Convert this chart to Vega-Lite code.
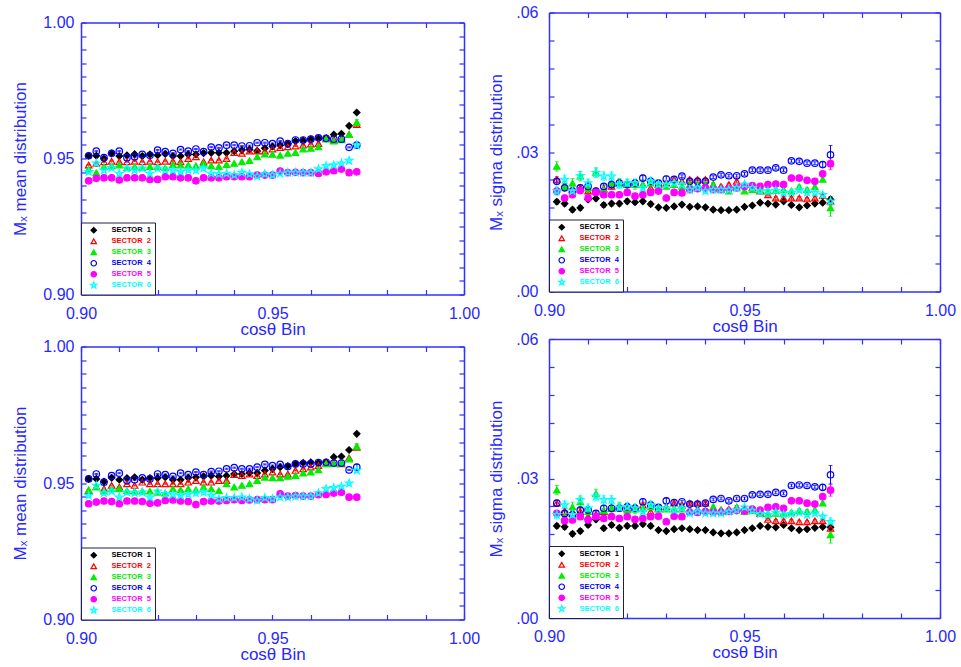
{
"$schema": "https://vega.github.io/schema/vega-lite/v6.json",
"background": "white",
"padding": {"left": 11, "top": 4.5, "right": 0, "bottom": 2},
"config": {
 "view": {"stroke": null},
 "axis": {"domainColor": "#3030ff", "domainWidth": 1.5, "tickColor": "#3030ff", "tickWidth": 1.2, "tickSize": -5, "labelColor": "#2828ff", "titleColor": "#2828ff", "labelFont": "Liberation Sans", "titleFont": "Liberation Sans", "labelFontSize": 16, "titleFontSize": 17, "titleFontWeight": "normal", "grid": false, "labelFlush": false, "labelOverlap": false},
 "legend": {"orient": "bottom-left", "offset": 0, "title": null, "padding": 4, "strokeColor": "#202040", "fillColor": "white", "labelFont": "Liberation Sans", "labelFontSize": 7.5, "labelFontWeight": "bold", "symbolOffset": 5, "labelOffset": 14, "rowPadding": 0, "symbolStrokeWidth": 1.2, "symbolSize": 30}
},
"spacing": 7,
"resolve": {"scale": {"shape": "independent", "fill": "independent", "stroke": "independent", "color": "independent"}, "legend": {"shape": "independent", "fill": "independent", "stroke": "independent", "color": "independent"}},
"datasets": {
"tl": [
{"s":1,"x":0.902,"y":0.951,"e":0.0002},{"s":1,"x":0.904,"y":0.951,"e":0.0002},{"s":1,"x":0.906,"y":0.95,"e":0.0002},{"s":1,"x":0.908,"y":0.9519,"e":0.0002},{"s":1,"x":0.91,"y":0.9509,"e":0.0002},{"s":1,"x":0.912,"y":0.9512,"e":0.0002},{"s":1,"x":0.914,"y":0.9516,"e":0.0002},{"s":1,"x":0.916,"y":0.9509,"e":0.0002},{"s":1,"x":0.918,"y":0.9515,"e":0.0002},{"s":1,"x":0.92,"y":0.9512,"e":0.0002},{"s":1,"x":0.922,"y":0.9517,"e":0.0002},{"s":1,"x":0.924,"y":0.9509,"e":0.0002},{"s":1,"x":0.926,"y":0.9509,"e":0.0002},{"s":1,"x":0.928,"y":0.9515,"e":0.0002},{"s":1,"x":0.93,"y":0.9515,"e":0.0002},{"s":1,"x":0.932,"y":0.952,"e":0.0002},{"s":1,"x":0.934,"y":0.9521,"e":0.0002},{"s":1,"x":0.936,"y":0.9521,"e":0.0002},{"s":1,"x":0.938,"y":0.9521,"e":0.0002},{"s":1,"x":0.94,"y":0.9527,"e":0.0002},{"s":1,"x":0.942,"y":0.9531,"e":0.0002},{"s":1,"x":0.944,"y":0.9533,"e":0.0002},{"s":1,"x":0.946,"y":0.9528,"e":0.0002},{"s":1,"x":0.948,"y":0.9538,"e":0.0002},{"s":1,"x":0.95,"y":0.9544,"e":0.0002},{"s":1,"x":0.952,"y":0.9549,"e":0.0002},{"s":1,"x":0.954,"y":0.9554,"e":0.0002},{"s":1,"x":0.956,"y":0.9564,"e":0.0002},{"s":1,"x":0.958,"y":0.9566,"e":0.0002},{"s":1,"x":0.96,"y":0.957,"e":0.0002},{"s":1,"x":0.962,"y":0.9574,"e":0.0002},{"s":1,"x":0.964,"y":0.9574,"e":0.0002},{"s":1,"x":0.966,"y":0.9588,"e":0.0002},{"s":1,"x":0.968,"y":0.9591,"e":0.0002},{"s":1,"x":0.97,"y":0.962,"e":0.0002},{"s":1,"x":0.972,"y":0.9669,"e":0.0004},
{"s":2,"x":0.902,"y":0.9476,"e":0.0002},{"s":2,"x":0.904,"y":0.9482,"e":0.0002},{"s":2,"x":0.906,"y":0.9488,"e":0.0002},{"s":2,"x":0.908,"y":0.949,"e":0.0002},{"s":2,"x":0.91,"y":0.9488,"e":0.0002},{"s":2,"x":0.912,"y":0.9488,"e":0.0002},{"s":2,"x":0.914,"y":0.949,"e":0.0002},{"s":2,"x":0.916,"y":0.9488,"e":0.0002},{"s":2,"x":0.918,"y":0.949,"e":0.0002},{"s":2,"x":0.92,"y":0.9488,"e":0.0002},{"s":2,"x":0.922,"y":0.949,"e":0.0002},{"s":2,"x":0.924,"y":0.949,"e":0.0002},{"s":2,"x":0.926,"y":0.9488,"e":0.0002},{"s":2,"x":0.928,"y":0.95,"e":0.0002},{"s":2,"x":0.93,"y":0.9506,"e":0.0002},{"s":2,"x":0.932,"y":0.9488,"e":0.0002},{"s":2,"x":0.934,"y":0.9494,"e":0.0002},{"s":2,"x":0.936,"y":0.9494,"e":0.0002},{"s":2,"x":0.938,"y":0.95,"e":0.0002},{"s":2,"x":0.94,"y":0.9522,"e":0.0002},{"s":2,"x":0.942,"y":0.9519,"e":0.0002},{"s":2,"x":0.944,"y":0.9527,"e":0.0002},{"s":2,"x":0.946,"y":0.9527,"e":0.0002},{"s":2,"x":0.948,"y":0.9527,"e":0.0002},{"s":2,"x":0.95,"y":0.9535,"e":0.0002},{"s":2,"x":0.952,"y":0.954,"e":0.0002},{"s":2,"x":0.954,"y":0.9543,"e":0.0002},{"s":2,"x":0.956,"y":0.9546,"e":0.0002},{"s":2,"x":0.958,"y":0.9549,"e":0.0002},{"s":2,"x":0.96,"y":0.9553,"e":0.0002},{"s":2,"x":0.962,"y":0.9555,"e":0.0002},{"s":2,"x":0.964,"y":0.9574,"e":0.0002},{"s":2,"x":0.966,"y":0.9568,"e":0.0002},{"s":2,"x":0.968,"y":0.9571,"e":0.0002},{"s":2,"x":0.97,"y":0.9588,"e":0.0002},{"s":2,"x":0.972,"y":0.9625,"e":0.0008},
{"s":3,"x":0.902,"y":0.9461,"e":0.0002},{"s":3,"x":0.904,"y":0.9448,"e":0.0002},{"s":3,"x":0.906,"y":0.947,"e":0.0002},{"s":3,"x":0.908,"y":0.9473,"e":0.0002},{"s":3,"x":0.91,"y":0.9476,"e":0.0002},{"s":3,"x":0.912,"y":0.9466,"e":0.0002},{"s":3,"x":0.914,"y":0.947,"e":0.0002},{"s":3,"x":0.916,"y":0.9466,"e":0.0002},{"s":3,"x":0.918,"y":0.947,"e":0.0002},{"s":3,"x":0.92,"y":0.947,"e":0.0002},{"s":3,"x":0.922,"y":0.9466,"e":0.0002},{"s":3,"x":0.924,"y":0.9478,"e":0.0002},{"s":3,"x":0.926,"y":0.9476,"e":0.0002},{"s":3,"x":0.928,"y":0.9476,"e":0.0002},{"s":3,"x":0.93,"y":0.9473,"e":0.0002},{"s":3,"x":0.932,"y":0.9482,"e":0.0002},{"s":3,"x":0.934,"y":0.9473,"e":0.0002},{"s":3,"x":0.936,"y":0.947,"e":0.0002},{"s":3,"x":0.938,"y":0.9478,"e":0.0002},{"s":3,"x":0.94,"y":0.9482,"e":0.0002},{"s":3,"x":0.942,"y":0.9488,"e":0.0002},{"s":3,"x":0.944,"y":0.9492,"e":0.0002},{"s":3,"x":0.946,"y":0.9506,"e":0.0002},{"s":3,"x":0.948,"y":0.9516,"e":0.0002},{"s":3,"x":0.95,"y":0.9515,"e":0.0002},{"s":3,"x":0.952,"y":0.9512,"e":0.0002},{"s":3,"x":0.954,"y":0.9519,"e":0.0002},{"s":3,"x":0.956,"y":0.9522,"e":0.0002},{"s":3,"x":0.958,"y":0.9535,"e":0.0002},{"s":3,"x":0.96,"y":0.9537,"e":0.0002},{"s":3,"x":0.962,"y":0.9543,"e":0.0002},{"s":3,"x":0.964,"y":0.9571,"e":0.0002},{"s":3,"x":0.966,"y":0.9564,"e":0.0002},{"s":3,"x":0.968,"y":0.9569,"e":0.0002},{"s":3,"x":0.97,"y":0.9588,"e":0.0002},{"s":3,"x":0.972,"y":0.9633,"e":0.001},
{"s":4,"x":0.902,"y":0.951,"e":0.0002},{"s":4,"x":0.904,"y":0.9527,"e":0.0002},{"s":4,"x":0.906,"y":0.9503,"e":0.0002},{"s":4,"x":0.908,"y":0.9519,"e":0.0002},{"s":4,"x":0.91,"y":0.9527,"e":0.0002},{"s":4,"x":0.912,"y":0.9503,"e":0.0002},{"s":4,"x":0.914,"y":0.9506,"e":0.0002},{"s":4,"x":0.916,"y":0.9515,"e":0.0002},{"s":4,"x":0.918,"y":0.9512,"e":0.0002},{"s":4,"x":0.92,"y":0.9531,"e":0.0002},{"s":4,"x":0.922,"y":0.9525,"e":0.0002},{"s":4,"x":0.924,"y":0.9519,"e":0.0002},{"s":4,"x":0.926,"y":0.9533,"e":0.0002},{"s":4,"x":0.928,"y":0.9527,"e":0.0002},{"s":4,"x":0.93,"y":0.9535,"e":0.0002},{"s":4,"x":0.932,"y":0.9525,"e":0.0002},{"s":4,"x":0.934,"y":0.9542,"e":0.0002},{"s":4,"x":0.936,"y":0.9539,"e":0.0002},{"s":4,"x":0.938,"y":0.9549,"e":0.0002},{"s":4,"x":0.94,"y":0.9549,"e":0.0002},{"s":4,"x":0.942,"y":0.9546,"e":0.0002},{"s":4,"x":0.944,"y":0.9547,"e":0.0002},{"s":4,"x":0.946,"y":0.9558,"e":0.0002},{"s":4,"x":0.948,"y":0.9558,"e":0.0002},{"s":4,"x":0.95,"y":0.9555,"e":0.0002},{"s":4,"x":0.952,"y":0.9564,"e":0.0002},{"s":4,"x":0.954,"y":0.9555,"e":0.0002},{"s":4,"x":0.956,"y":0.9568,"e":0.0002},{"s":4,"x":0.958,"y":0.9568,"e":0.0002},{"s":4,"x":0.96,"y":0.9571,"e":0.0002},{"s":4,"x":0.962,"y":0.9576,"e":0.0002},{"s":4,"x":0.964,"y":0.9574,"e":0.0002},{"s":4,"x":0.966,"y":0.9571,"e":0.0002},{"s":4,"x":0.968,"y":0.9571,"e":0.0002},{"s":4,"x":0.97,"y":0.9541,"e":0.0002},{"s":4,"x":0.972,"y":0.9549,"e":0.001},
{"s":5,"x":0.902,"y":0.9418,"e":0.0002},{"s":5,"x":0.904,"y":0.9427,"e":0.0002},{"s":5,"x":0.906,"y":0.9429,"e":0.0002},{"s":5,"x":0.908,"y":0.9429,"e":0.0002},{"s":5,"x":0.91,"y":0.9421,"e":0.0002},{"s":5,"x":0.912,"y":0.9429,"e":0.0002},{"s":5,"x":0.914,"y":0.9429,"e":0.0002},{"s":5,"x":0.916,"y":0.9429,"e":0.0002},{"s":5,"x":0.918,"y":0.9423,"e":0.0002},{"s":5,"x":0.92,"y":0.9423,"e":0.0002},{"s":5,"x":0.922,"y":0.9433,"e":0.0002},{"s":5,"x":0.924,"y":0.9433,"e":0.0002},{"s":5,"x":0.926,"y":0.9429,"e":0.0002},{"s":5,"x":0.928,"y":0.9429,"e":0.0002},{"s":5,"x":0.93,"y":0.9418,"e":0.0002},{"s":5,"x":0.932,"y":0.9429,"e":0.0002},{"s":5,"x":0.934,"y":0.9429,"e":0.0002},{"s":5,"x":0.936,"y":0.9429,"e":0.0002},{"s":5,"x":0.938,"y":0.9433,"e":0.0002},{"s":5,"x":0.94,"y":0.9433,"e":0.0002},{"s":5,"x":0.942,"y":0.9433,"e":0.0002},{"s":5,"x":0.944,"y":0.9433,"e":0.0002},{"s":5,"x":0.946,"y":0.9439,"e":0.0002},{"s":5,"x":0.948,"y":0.9439,"e":0.0002},{"s":5,"x":0.95,"y":0.9439,"e":0.0002},{"s":5,"x":0.952,"y":0.9454,"e":0.0002},{"s":5,"x":0.954,"y":0.9448,"e":0.0002},{"s":5,"x":0.956,"y":0.9449,"e":0.0002},{"s":5,"x":0.958,"y":0.9448,"e":0.0002},{"s":5,"x":0.96,"y":0.9448,"e":0.0002},{"s":5,"x":0.962,"y":0.9445,"e":0.0002},{"s":5,"x":0.964,"y":0.9451,"e":0.0002},{"s":5,"x":0.966,"y":0.9455,"e":0.0002},{"s":5,"x":0.968,"y":0.9461,"e":0.0002},{"s":5,"x":0.97,"y":0.9448,"e":0.0002},{"s":5,"x":0.972,"y":0.9451,"e":0.0005},
{"s":6,"x":0.902,"y":0.9451,"e":0.0002},{"s":6,"x":0.904,"y":0.9482,"e":0.0002},{"s":6,"x":0.906,"y":0.9457,"e":0.0002},{"s":6,"x":0.908,"y":0.9466,"e":0.0002},{"s":6,"x":0.91,"y":0.9445,"e":0.0002},{"s":6,"x":0.912,"y":0.9464,"e":0.0002},{"s":6,"x":0.914,"y":0.9457,"e":0.0002},{"s":6,"x":0.916,"y":0.9464,"e":0.0002},{"s":6,"x":0.918,"y":0.9445,"e":0.0002},{"s":6,"x":0.92,"y":0.9464,"e":0.0002},{"s":6,"x":0.922,"y":0.9457,"e":0.0002},{"s":6,"x":0.924,"y":0.9457,"e":0.0002},{"s":6,"x":0.926,"y":0.9451,"e":0.0002},{"s":6,"x":0.928,"y":0.9457,"e":0.0002},{"s":6,"x":0.93,"y":0.9457,"e":0.0002},{"s":6,"x":0.932,"y":0.9464,"e":0.0002},{"s":6,"x":0.934,"y":0.9445,"e":0.0002},{"s":6,"x":0.936,"y":0.9443,"e":0.0002},{"s":6,"x":0.938,"y":0.9445,"e":0.0002},{"s":6,"x":0.94,"y":0.9439,"e":0.0002},{"s":6,"x":0.942,"y":0.9448,"e":0.0002},{"s":6,"x":0.944,"y":0.9443,"e":0.0002},{"s":6,"x":0.946,"y":0.9435,"e":0.0002},{"s":6,"x":0.948,"y":0.9443,"e":0.0002},{"s":6,"x":0.95,"y":0.9439,"e":0.0002},{"s":6,"x":0.952,"y":0.9445,"e":0.0002},{"s":6,"x":0.954,"y":0.9448,"e":0.0002},{"s":6,"x":0.956,"y":0.9448,"e":0.0002},{"s":6,"x":0.958,"y":0.9448,"e":0.0002},{"s":6,"x":0.96,"y":0.9448,"e":0.0002},{"s":6,"x":0.962,"y":0.9461,"e":0.0002},{"s":6,"x":0.964,"y":0.9473,"e":0.0002},{"s":6,"x":0.966,"y":0.9476,"e":0.0002},{"s":6,"x":0.968,"y":0.9482,"e":0.0002},{"s":6,"x":0.97,"y":0.9492,"e":0.0002},{"s":6,"x":0.972,"y":0.9549,"e":0.0005}
],
"bl": [
{"s":1,"x":0.902,"y":0.9515,"e":0.0002},{"s":1,"x":0.904,"y":0.9515,"e":0.0002},{"s":1,"x":0.906,"y":0.9505,"e":0.0002},{"s":1,"x":0.908,"y":0.9519,"e":0.0002},{"s":1,"x":0.91,"y":0.9512,"e":0.0002},{"s":1,"x":0.912,"y":0.9518,"e":0.0002},{"s":1,"x":0.914,"y":0.9521,"e":0.0002},{"s":1,"x":0.916,"y":0.9512,"e":0.0002},{"s":1,"x":0.918,"y":0.9518,"e":0.0002},{"s":1,"x":0.92,"y":0.9518,"e":0.0002},{"s":1,"x":0.922,"y":0.9521,"e":0.0002},{"s":1,"x":0.924,"y":0.9512,"e":0.0002},{"s":1,"x":0.926,"y":0.9512,"e":0.0002},{"s":1,"x":0.928,"y":0.9519,"e":0.0002},{"s":1,"x":0.93,"y":0.9521,"e":0.0002},{"s":1,"x":0.932,"y":0.9524,"e":0.0002},{"s":1,"x":0.934,"y":0.9527,"e":0.0002},{"s":1,"x":0.936,"y":0.9524,"e":0.0002},{"s":1,"x":0.938,"y":0.9527,"e":0.0002},{"s":1,"x":0.94,"y":0.9533,"e":0.0002},{"s":1,"x":0.942,"y":0.9533,"e":0.0002},{"s":1,"x":0.944,"y":0.9537,"e":0.0002},{"s":1,"x":0.946,"y":0.9537,"e":0.0002},{"s":1,"x":0.948,"y":0.9546,"e":0.0002},{"s":1,"x":0.95,"y":0.9552,"e":0.0002},{"s":1,"x":0.952,"y":0.9558,"e":0.0002},{"s":1,"x":0.954,"y":0.9562,"e":0.0002},{"s":1,"x":0.956,"y":0.957,"e":0.0002},{"s":1,"x":0.958,"y":0.9574,"e":0.0002},{"s":1,"x":0.96,"y":0.9576,"e":0.0002},{"s":1,"x":0.962,"y":0.9573,"e":0.0002},{"s":1,"x":0.964,"y":0.9576,"e":0.0002},{"s":1,"x":0.966,"y":0.9595,"e":0.0002},{"s":1,"x":0.968,"y":0.9597,"e":0.0002},{"s":1,"x":0.97,"y":0.9621,"e":0.0002},{"s":1,"x":0.972,"y":0.968,"e":0.0004},
{"s":2,"x":0.902,"y":0.9472,"e":0.0002},{"s":2,"x":0.904,"y":0.9487,"e":0.0002},{"s":2,"x":0.906,"y":0.9479,"e":0.0002},{"s":2,"x":0.908,"y":0.9491,"e":0.0002},{"s":2,"x":0.91,"y":0.9485,"e":0.0002},{"s":2,"x":0.912,"y":0.9497,"e":0.0002},{"s":2,"x":0.914,"y":0.9491,"e":0.0002},{"s":2,"x":0.916,"y":0.9503,"e":0.0002},{"s":2,"x":0.918,"y":0.9497,"e":0.0002},{"s":2,"x":0.92,"y":0.9497,"e":0.0002},{"s":2,"x":0.922,"y":0.9497,"e":0.0002},{"s":2,"x":0.924,"y":0.9497,"e":0.0002},{"s":2,"x":0.926,"y":0.9497,"e":0.0002},{"s":2,"x":0.928,"y":0.9503,"e":0.0002},{"s":2,"x":0.93,"y":0.9509,"e":0.0002},{"s":2,"x":0.932,"y":0.9503,"e":0.0002},{"s":2,"x":0.934,"y":0.9503,"e":0.0002},{"s":2,"x":0.936,"y":0.9509,"e":0.0002},{"s":2,"x":0.938,"y":0.9509,"e":0.0002},{"s":2,"x":0.94,"y":0.9531,"e":0.0002},{"s":2,"x":0.942,"y":0.9527,"e":0.0002},{"s":2,"x":0.944,"y":0.9533,"e":0.0002},{"s":2,"x":0.946,"y":0.9527,"e":0.0002},{"s":2,"x":0.948,"y":0.9533,"e":0.0002},{"s":2,"x":0.95,"y":0.954,"e":0.0002},{"s":2,"x":0.952,"y":0.9533,"e":0.0002},{"s":2,"x":0.954,"y":0.9533,"e":0.0002},{"s":2,"x":0.956,"y":0.9546,"e":0.0002},{"s":2,"x":0.958,"y":0.9552,"e":0.0002},{"s":2,"x":0.96,"y":0.9558,"e":0.0002},{"s":2,"x":0.962,"y":0.9564,"e":0.0002},{"s":2,"x":0.964,"y":0.9573,"e":0.0002},{"s":2,"x":0.966,"y":0.9573,"e":0.0002},{"s":2,"x":0.968,"y":0.957,"e":0.0002},{"s":2,"x":0.97,"y":0.9592,"e":0.0002},{"s":2,"x":0.972,"y":0.9631,"e":0.0008},
{"s":3,"x":0.902,"y":0.9475,"e":0.0002},{"s":3,"x":0.904,"y":0.9485,"e":0.0002},{"s":3,"x":0.906,"y":0.947,"e":0.0002},{"s":3,"x":0.908,"y":0.9479,"e":0.0002},{"s":3,"x":0.91,"y":0.9479,"e":0.0002},{"s":3,"x":0.912,"y":0.9472,"e":0.0002},{"s":3,"x":0.914,"y":0.947,"e":0.0002},{"s":3,"x":0.916,"y":0.947,"e":0.0002},{"s":3,"x":0.918,"y":0.947,"e":0.0002},{"s":3,"x":0.92,"y":0.9466,"e":0.0002},{"s":3,"x":0.922,"y":0.9463,"e":0.0002},{"s":3,"x":0.924,"y":0.9479,"e":0.0002},{"s":3,"x":0.926,"y":0.9475,"e":0.0002},{"s":3,"x":0.928,"y":0.9479,"e":0.0002},{"s":3,"x":0.93,"y":0.9475,"e":0.0002},{"s":3,"x":0.932,"y":0.9485,"e":0.0002},{"s":3,"x":0.934,"y":0.9479,"e":0.0002},{"s":3,"x":0.936,"y":0.9472,"e":0.0002},{"s":3,"x":0.938,"y":0.9497,"e":0.0002},{"s":3,"x":0.94,"y":0.9485,"e":0.0002},{"s":3,"x":0.942,"y":0.9491,"e":0.0002},{"s":3,"x":0.944,"y":0.9497,"e":0.0002},{"s":3,"x":0.946,"y":0.9509,"e":0.0002},{"s":3,"x":0.948,"y":0.9521,"e":0.0002},{"s":3,"x":0.95,"y":0.9519,"e":0.0002},{"s":3,"x":0.952,"y":0.9519,"e":0.0002},{"s":3,"x":0.954,"y":0.9524,"e":0.0002},{"s":3,"x":0.956,"y":0.9527,"e":0.0002},{"s":3,"x":0.958,"y":0.9536,"e":0.0002},{"s":3,"x":0.96,"y":0.954,"e":0.0002},{"s":3,"x":0.962,"y":0.9548,"e":0.0002},{"s":3,"x":0.964,"y":0.957,"e":0.0002},{"s":3,"x":0.966,"y":0.957,"e":0.0002},{"s":3,"x":0.968,"y":0.9573,"e":0.0002},{"s":3,"x":0.97,"y":0.9588,"e":0.0002},{"s":3,"x":0.972,"y":0.9634,"e":0.001},
{"s":4,"x":0.902,"y":0.9515,"e":0.0002},{"s":4,"x":0.904,"y":0.9533,"e":0.0002},{"s":4,"x":0.906,"y":0.9503,"e":0.0002},{"s":4,"x":0.908,"y":0.9527,"e":0.0002},{"s":4,"x":0.91,"y":0.9536,"e":0.0002},{"s":4,"x":0.912,"y":0.9509,"e":0.0002},{"s":4,"x":0.914,"y":0.9512,"e":0.0002},{"s":4,"x":0.916,"y":0.9519,"e":0.0002},{"s":4,"x":0.918,"y":0.9515,"e":0.0002},{"s":4,"x":0.92,"y":0.9533,"e":0.0002},{"s":4,"x":0.922,"y":0.9531,"e":0.0002},{"s":4,"x":0.924,"y":0.9524,"e":0.0002},{"s":4,"x":0.926,"y":0.9536,"e":0.0002},{"s":4,"x":0.928,"y":0.9531,"e":0.0002},{"s":4,"x":0.93,"y":0.954,"e":0.0002},{"s":4,"x":0.932,"y":0.9531,"e":0.0002},{"s":4,"x":0.934,"y":0.9542,"e":0.0002},{"s":4,"x":0.936,"y":0.9543,"e":0.0002},{"s":4,"x":0.938,"y":0.9552,"e":0.0002},{"s":4,"x":0.94,"y":0.9556,"e":0.0002},{"s":4,"x":0.942,"y":0.9552,"e":0.0002},{"s":4,"x":0.944,"y":0.9552,"e":0.0002},{"s":4,"x":0.946,"y":0.9558,"e":0.0002},{"s":4,"x":0.948,"y":0.9568,"e":0.0002},{"s":4,"x":0.95,"y":0.9564,"e":0.0002},{"s":4,"x":0.952,"y":0.9568,"e":0.0002},{"s":4,"x":0.954,"y":0.956,"e":0.0002},{"s":4,"x":0.956,"y":0.957,"e":0.0002},{"s":4,"x":0.958,"y":0.957,"e":0.0002},{"s":4,"x":0.96,"y":0.957,"e":0.0002},{"s":4,"x":0.962,"y":0.9575,"e":0.0002},{"s":4,"x":0.964,"y":0.9576,"e":0.0002},{"s":4,"x":0.966,"y":0.9573,"e":0.0002},{"s":4,"x":0.968,"y":0.9573,"e":0.0002},{"s":4,"x":0.97,"y":0.9548,"e":0.0002},{"s":4,"x":0.972,"y":0.9558,"e":0.001},
{"s":5,"x":0.902,"y":0.9424,"e":0.0002},{"s":5,"x":0.904,"y":0.943,"e":0.0002},{"s":5,"x":0.906,"y":0.9434,"e":0.0002},{"s":5,"x":0.908,"y":0.9432,"e":0.0002},{"s":5,"x":0.91,"y":0.9424,"e":0.0002},{"s":5,"x":0.912,"y":0.9434,"e":0.0002},{"s":5,"x":0.914,"y":0.9434,"e":0.0002},{"s":5,"x":0.916,"y":0.9432,"e":0.0002},{"s":5,"x":0.918,"y":0.9426,"e":0.0002},{"s":5,"x":0.92,"y":0.9427,"e":0.0002},{"s":5,"x":0.922,"y":0.9436,"e":0.0002},{"s":5,"x":0.924,"y":0.9438,"e":0.0002},{"s":5,"x":0.926,"y":0.9434,"e":0.0002},{"s":5,"x":0.928,"y":0.9432,"e":0.0002},{"s":5,"x":0.93,"y":0.9421,"e":0.0002},{"s":5,"x":0.932,"y":0.9432,"e":0.0002},{"s":5,"x":0.934,"y":0.9434,"e":0.0002},{"s":5,"x":0.936,"y":0.9434,"e":0.0002},{"s":5,"x":0.938,"y":0.9436,"e":0.0002},{"s":5,"x":0.94,"y":0.9439,"e":0.0002},{"s":5,"x":0.942,"y":0.9436,"e":0.0002},{"s":5,"x":0.944,"y":0.9438,"e":0.0002},{"s":5,"x":0.946,"y":0.9439,"e":0.0002},{"s":5,"x":0.948,"y":0.9439,"e":0.0002},{"s":5,"x":0.95,"y":0.9439,"e":0.0002},{"s":5,"x":0.952,"y":0.946,"e":0.0002},{"s":5,"x":0.954,"y":0.9452,"e":0.0002},{"s":5,"x":0.956,"y":0.9454,"e":0.0002},{"s":5,"x":0.958,"y":0.9452,"e":0.0002},{"s":5,"x":0.96,"y":0.9452,"e":0.0002},{"s":5,"x":0.962,"y":0.9457,"e":0.0002},{"s":5,"x":0.964,"y":0.9458,"e":0.0002},{"s":5,"x":0.966,"y":0.9463,"e":0.0002},{"s":5,"x":0.968,"y":0.9466,"e":0.0002},{"s":5,"x":0.97,"y":0.9448,"e":0.0002},{"s":5,"x":0.972,"y":0.9448,"e":0.0005},
{"s":6,"x":0.902,"y":0.9454,"e":0.0002},{"s":6,"x":0.904,"y":0.9491,"e":0.0002},{"s":6,"x":0.906,"y":0.9463,"e":0.0002},{"s":6,"x":0.908,"y":0.947,"e":0.0002},{"s":6,"x":0.91,"y":0.9448,"e":0.0002},{"s":6,"x":0.912,"y":0.9466,"e":0.0002},{"s":6,"x":0.914,"y":0.9463,"e":0.0002},{"s":6,"x":0.916,"y":0.9466,"e":0.0002},{"s":6,"x":0.918,"y":0.9448,"e":0.0002},{"s":6,"x":0.92,"y":0.947,"e":0.0002},{"s":6,"x":0.922,"y":0.946,"e":0.0002},{"s":6,"x":0.924,"y":0.9458,"e":0.0002},{"s":6,"x":0.926,"y":0.9454,"e":0.0002},{"s":6,"x":0.928,"y":0.9458,"e":0.0002},{"s":6,"x":0.93,"y":0.9463,"e":0.0002},{"s":6,"x":0.932,"y":0.9466,"e":0.0002},{"s":6,"x":0.934,"y":0.9454,"e":0.0002},{"s":6,"x":0.936,"y":0.9442,"e":0.0002},{"s":6,"x":0.938,"y":0.9446,"e":0.0002},{"s":6,"x":0.94,"y":0.9446,"e":0.0002},{"s":6,"x":0.942,"y":0.9448,"e":0.0002},{"s":6,"x":0.944,"y":0.9442,"e":0.0002},{"s":6,"x":0.946,"y":0.9436,"e":0.0002},{"s":6,"x":0.948,"y":0.9446,"e":0.0002},{"s":6,"x":0.95,"y":0.9442,"e":0.0002},{"s":6,"x":0.952,"y":0.9448,"e":0.0002},{"s":6,"x":0.954,"y":0.9448,"e":0.0002},{"s":6,"x":0.956,"y":0.9451,"e":0.0002},{"s":6,"x":0.958,"y":0.9451,"e":0.0002},{"s":6,"x":0.96,"y":0.9451,"e":0.0002},{"s":6,"x":0.962,"y":0.9463,"e":0.0002},{"s":6,"x":0.964,"y":0.9479,"e":0.0002},{"s":6,"x":0.966,"y":0.9482,"e":0.0002},{"s":6,"x":0.968,"y":0.9487,"e":0.0002},{"s":6,"x":0.97,"y":0.9499,"e":0.0002},{"s":6,"x":0.972,"y":0.9546,"e":0.0005}
],
"tr": [
{"s":1,"x":0.902,"y":0.0193,"e":0.0005},{"s":1,"x":0.904,"y":0.0189,"e":0.0005},{"s":1,"x":0.906,"y":0.0176,"e":0.0005},{"s":1,"x":0.908,"y":0.018,"e":0.0005},{"s":1,"x":0.91,"y":0.0198,"e":0.0005},{"s":1,"x":0.912,"y":0.02,"e":0.0005},{"s":1,"x":0.914,"y":0.0186,"e":0.0005},{"s":1,"x":0.916,"y":0.0189,"e":0.0005},{"s":1,"x":0.918,"y":0.0189,"e":0.0005},{"s":1,"x":0.92,"y":0.0194,"e":0.0005},{"s":1,"x":0.922,"y":0.0192,"e":0.0005},{"s":1,"x":0.924,"y":0.0194,"e":0.0005},{"s":1,"x":0.926,"y":0.0188,"e":0.0005},{"s":1,"x":0.928,"y":0.0181,"e":0.0003},{"s":1,"x":0.93,"y":0.018,"e":0.0003},{"s":1,"x":0.932,"y":0.0183,"e":0.0003},{"s":1,"x":0.934,"y":0.0187,"e":0.0003},{"s":1,"x":0.936,"y":0.0182,"e":0.0003},{"s":1,"x":0.938,"y":0.0183,"e":0.0003},{"s":1,"x":0.94,"y":0.0181,"e":0.0003},{"s":1,"x":0.942,"y":0.0176,"e":0.0003},{"s":1,"x":0.944,"y":0.0175,"e":0.0003},{"s":1,"x":0.946,"y":0.0175,"e":0.0003},{"s":1,"x":0.948,"y":0.0176,"e":0.0003},{"s":1,"x":0.95,"y":0.0182,"e":0.0003},{"s":1,"x":0.952,"y":0.0185,"e":0.0003},{"s":1,"x":0.954,"y":0.0191,"e":0.0003},{"s":1,"x":0.956,"y":0.0189,"e":0.0003},{"s":1,"x":0.958,"y":0.0187,"e":0.0003},{"s":1,"x":0.96,"y":0.0194,"e":0.0003},{"s":1,"x":0.962,"y":0.0186,"e":0.0003},{"s":1,"x":0.964,"y":0.0181,"e":0.0003},{"s":1,"x":0.966,"y":0.0185,"e":0.0003},{"s":1,"x":0.968,"y":0.0189,"e":0.0003},{"s":1,"x":0.97,"y":0.0191,"e":0.0003},{"s":1,"x":0.972,"y":0.0198,"e":0.0006},
{"s":2,"x":0.902,"y":0.0241,"e":0.0006},{"s":2,"x":0.904,"y":0.0226,"e":0.0006},{"s":2,"x":0.906,"y":0.0219,"e":0.0006},{"s":2,"x":0.908,"y":0.0223,"e":0.0006},{"s":2,"x":0.91,"y":0.0216,"e":0.0006},{"s":2,"x":0.912,"y":0.0216,"e":0.0006},{"s":2,"x":0.914,"y":0.0221,"e":0.0006},{"s":2,"x":0.916,"y":0.0226,"e":0.0006},{"s":2,"x":0.918,"y":0.0233,"e":0.0006},{"s":2,"x":0.92,"y":0.023,"e":0.0006},{"s":2,"x":0.922,"y":0.0233,"e":0.0006},{"s":2,"x":0.924,"y":0.023,"e":0.0006},{"s":2,"x":0.926,"y":0.0223,"e":0.0006},{"s":2,"x":0.928,"y":0.023,"e":0.0006},{"s":2,"x":0.93,"y":0.0233,"e":0.0006},{"s":2,"x":0.932,"y":0.0241,"e":0.0003},{"s":2,"x":0.934,"y":0.0237,"e":0.0003},{"s":2,"x":0.936,"y":0.0241,"e":0.0003},{"s":2,"x":0.938,"y":0.0241,"e":0.0003},{"s":2,"x":0.94,"y":0.0241,"e":0.0003},{"s":2,"x":0.942,"y":0.023,"e":0.0003},{"s":2,"x":0.944,"y":0.0226,"e":0.0003},{"s":2,"x":0.946,"y":0.023,"e":0.0003},{"s":2,"x":0.948,"y":0.0237,"e":0.0003},{"s":2,"x":0.95,"y":0.023,"e":0.0003},{"s":2,"x":0.952,"y":0.0223,"e":0.0003},{"s":2,"x":0.954,"y":0.0216,"e":0.0003},{"s":2,"x":0.956,"y":0.0208,"e":0.0003},{"s":2,"x":0.958,"y":0.0201,"e":0.0003},{"s":2,"x":0.96,"y":0.0201,"e":0.0003},{"s":2,"x":0.962,"y":0.0201,"e":0.0003},{"s":2,"x":0.964,"y":0.0201,"e":0.0003},{"s":2,"x":0.966,"y":0.0199,"e":0.0003},{"s":2,"x":0.968,"y":0.0201,"e":0.0003},{"s":2,"x":0.97,"y":0.0206,"e":0.0003},{"s":2,"x":0.972,"y":0.0194,"e":0.0008},
{"s":3,"x":0.902,"y":0.0269,"e":0.001},{"s":3,"x":0.904,"y":0.0226,"e":0.001},{"s":3,"x":0.906,"y":0.0233,"e":0.001},{"s":3,"x":0.908,"y":0.0248,"e":0.001},{"s":3,"x":0.91,"y":0.0223,"e":0.001},{"s":3,"x":0.912,"y":0.0256,"e":0.001},{"s":3,"x":0.914,"y":0.0219,"e":0.001},{"s":3,"x":0.916,"y":0.0233,"e":0.001},{"s":3,"x":0.918,"y":0.0233,"e":0.001},{"s":3,"x":0.92,"y":0.023,"e":0.001},{"s":3,"x":0.922,"y":0.023,"e":0.001},{"s":3,"x":0.924,"y":0.023,"e":0.001},{"s":3,"x":0.926,"y":0.0233,"e":0.001},{"s":3,"x":0.928,"y":0.0226,"e":0.0004},{"s":3,"x":0.93,"y":0.0226,"e":0.0004},{"s":3,"x":0.932,"y":0.023,"e":0.0004},{"s":3,"x":0.934,"y":0.0226,"e":0.0004},{"s":3,"x":0.936,"y":0.023,"e":0.0004},{"s":3,"x":0.938,"y":0.023,"e":0.0004},{"s":3,"x":0.94,"y":0.023,"e":0.0004},{"s":3,"x":0.942,"y":0.023,"e":0.0004},{"s":3,"x":0.944,"y":0.0219,"e":0.0004},{"s":3,"x":0.946,"y":0.0216,"e":0.0004},{"s":3,"x":0.948,"y":0.0223,"e":0.0004},{"s":3,"x":0.95,"y":0.0216,"e":0.0004},{"s":3,"x":0.952,"y":0.0219,"e":0.0004},{"s":3,"x":0.954,"y":0.0219,"e":0.0004},{"s":3,"x":0.956,"y":0.0216,"e":0.0004},{"s":3,"x":0.958,"y":0.0217,"e":0.0004},{"s":3,"x":0.96,"y":0.0219,"e":0.0004},{"s":3,"x":0.962,"y":0.0216,"e":0.0004},{"s":3,"x":0.964,"y":0.0225,"e":0.0004},{"s":3,"x":0.966,"y":0.0219,"e":0.0004},{"s":3,"x":0.968,"y":0.0225,"e":0.0004},{"s":3,"x":0.97,"y":0.0241,"e":0.0004},{"s":3,"x":0.972,"y":0.018,"e":0.0018},
{"s":4,"x":0.902,"y":0.0237,"e":0.0006},{"s":4,"x":0.904,"y":0.0223,"e":0.0006},{"s":4,"x":0.906,"y":0.0216,"e":0.0006},{"s":4,"x":0.908,"y":0.0223,"e":0.0006},{"s":4,"x":0.91,"y":0.0226,"e":0.0006},{"s":4,"x":0.912,"y":0.0216,"e":0.0006},{"s":4,"x":0.914,"y":0.0226,"e":0.0006},{"s":4,"x":0.916,"y":0.023,"e":0.0006},{"s":4,"x":0.918,"y":0.0233,"e":0.0006},{"s":4,"x":0.92,"y":0.023,"e":0.0006},{"s":4,"x":0.922,"y":0.0233,"e":0.0006},{"s":4,"x":0.924,"y":0.0244,"e":0.0006},{"s":4,"x":0.926,"y":0.0237,"e":0.0006},{"s":4,"x":0.928,"y":0.0233,"e":0.0006},{"s":4,"x":0.93,"y":0.0242,"e":0.0006},{"s":4,"x":0.932,"y":0.0241,"e":0.0006},{"s":4,"x":0.934,"y":0.0248,"e":0.0003},{"s":4,"x":0.936,"y":0.0237,"e":0.0003},{"s":4,"x":0.938,"y":0.0237,"e":0.0003},{"s":4,"x":0.94,"y":0.0237,"e":0.0003},{"s":4,"x":0.942,"y":0.0246,"e":0.0003},{"s":4,"x":0.944,"y":0.0251,"e":0.0003},{"s":4,"x":0.946,"y":0.0249,"e":0.0003},{"s":4,"x":0.948,"y":0.0249,"e":0.0003},{"s":4,"x":0.95,"y":0.0253,"e":0.0003},{"s":4,"x":0.952,"y":0.0261,"e":0.0003},{"s":4,"x":0.954,"y":0.0261,"e":0.0003},{"s":4,"x":0.956,"y":0.0261,"e":0.0003},{"s":4,"x":0.958,"y":0.0266,"e":0.0003},{"s":4,"x":0.96,"y":0.0261,"e":0.0003},{"s":4,"x":0.962,"y":0.0281,"e":0.0003},{"s":4,"x":0.964,"y":0.028,"e":0.0003},{"s":4,"x":0.966,"y":0.0276,"e":0.0003},{"s":4,"x":0.968,"y":0.0276,"e":0.0003},{"s":4,"x":0.97,"y":0.0273,"e":0.0006},{"s":4,"x":0.972,"y":0.0294,"e":0.002},
{"s":5,"x":0.902,"y":0.0216,"e":0.0006},{"s":5,"x":0.904,"y":0.0201,"e":0.0006},{"s":5,"x":0.906,"y":0.0208,"e":0.0006},{"s":5,"x":0.908,"y":0.0217,"e":0.0006},{"s":5,"x":0.91,"y":0.0201,"e":0.0006},{"s":5,"x":0.912,"y":0.0213,"e":0.0006},{"s":5,"x":0.914,"y":0.0208,"e":0.0006},{"s":5,"x":0.916,"y":0.0208,"e":0.0006},{"s":5,"x":0.918,"y":0.0208,"e":0.0006},{"s":5,"x":0.92,"y":0.0213,"e":0.0006},{"s":5,"x":0.922,"y":0.0205,"e":0.0006},{"s":5,"x":0.924,"y":0.0208,"e":0.0006},{"s":5,"x":0.926,"y":0.0213,"e":0.0006},{"s":5,"x":0.928,"y":0.0216,"e":0.0003},{"s":5,"x":0.93,"y":0.0201,"e":0.0003},{"s":5,"x":0.932,"y":0.0213,"e":0.0003},{"s":5,"x":0.934,"y":0.0212,"e":0.0003},{"s":5,"x":0.936,"y":0.0219,"e":0.0003},{"s":5,"x":0.938,"y":0.0221,"e":0.0003},{"s":5,"x":0.94,"y":0.0223,"e":0.0003},{"s":5,"x":0.942,"y":0.0219,"e":0.0003},{"s":5,"x":0.944,"y":0.0219,"e":0.0003},{"s":5,"x":0.946,"y":0.0221,"e":0.0003},{"s":5,"x":0.948,"y":0.0223,"e":0.0003},{"s":5,"x":0.95,"y":0.0226,"e":0.0003},{"s":5,"x":0.952,"y":0.0228,"e":0.0003},{"s":5,"x":0.954,"y":0.0226,"e":0.0003},{"s":5,"x":0.956,"y":0.023,"e":0.0003},{"s":5,"x":0.958,"y":0.0231,"e":0.0003},{"s":5,"x":0.96,"y":0.023,"e":0.0003},{"s":5,"x":0.962,"y":0.0244,"e":0.0003},{"s":5,"x":0.964,"y":0.0244,"e":0.0003},{"s":5,"x":0.966,"y":0.0239,"e":0.0003},{"s":5,"x":0.968,"y":0.0237,"e":0.0003},{"s":5,"x":0.97,"y":0.0253,"e":0.0003},{"s":5,"x":0.972,"y":0.0275,"e":0.0013},
{"s":6,"x":0.902,"y":0.0216,"e":0.0009},{"s":6,"x":0.904,"y":0.0241,"e":0.0009},{"s":6,"x":0.906,"y":0.0216,"e":0.0009},{"s":6,"x":0.908,"y":0.0249,"e":0.0009},{"s":6,"x":0.91,"y":0.0233,"e":0.0009},{"s":6,"x":0.912,"y":0.0255,"e":0.0009},{"s":6,"x":0.914,"y":0.0248,"e":0.0009},{"s":6,"x":0.916,"y":0.0248,"e":0.0009},{"s":6,"x":0.918,"y":0.023,"e":0.0009},{"s":6,"x":0.92,"y":0.0233,"e":0.0009},{"s":6,"x":0.922,"y":0.0233,"e":0.0009},{"s":6,"x":0.924,"y":0.0223,"e":0.0009},{"s":6,"x":0.926,"y":0.0237,"e":0.0009},{"s":6,"x":0.928,"y":0.023,"e":0.0004},{"s":6,"x":0.93,"y":0.023,"e":0.0004},{"s":6,"x":0.932,"y":0.0233,"e":0.0004},{"s":6,"x":0.934,"y":0.023,"e":0.0004},{"s":6,"x":0.936,"y":0.0219,"e":0.0004},{"s":6,"x":0.938,"y":0.0223,"e":0.0004},{"s":6,"x":0.94,"y":0.0216,"e":0.0004},{"s":6,"x":0.942,"y":0.0219,"e":0.0004},{"s":6,"x":0.944,"y":0.0219,"e":0.0004},{"s":6,"x":0.946,"y":0.0219,"e":0.0004},{"s":6,"x":0.948,"y":0.0223,"e":0.0004},{"s":6,"x":0.95,"y":0.023,"e":0.0004},{"s":6,"x":0.952,"y":0.0223,"e":0.0004},{"s":6,"x":0.954,"y":0.0216,"e":0.0004},{"s":6,"x":0.956,"y":0.0216,"e":0.0004},{"s":6,"x":0.958,"y":0.0217,"e":0.0004},{"s":6,"x":0.96,"y":0.0212,"e":0.0004},{"s":6,"x":0.962,"y":0.0213,"e":0.0004},{"s":6,"x":0.964,"y":0.0218,"e":0.0004},{"s":6,"x":0.966,"y":0.0213,"e":0.0004},{"s":6,"x":0.968,"y":0.0212,"e":0.0004},{"s":6,"x":0.97,"y":0.0208,"e":0.0004},{"s":6,"x":0.972,"y":0.0194,"e":0.0008}
],
"br": [
{"s":1,"x":0.902,"y":0.0198,"e":0.0005},{"s":1,"x":0.904,"y":0.0196,"e":0.0005},{"s":1,"x":0.906,"y":0.0181,"e":0.0005},{"s":1,"x":0.908,"y":0.0187,"e":0.0005},{"s":1,"x":0.91,"y":0.02,"e":0.0005},{"s":1,"x":0.912,"y":0.0212,"e":0.0005},{"s":1,"x":0.914,"y":0.0193,"e":0.0005},{"s":1,"x":0.916,"y":0.02,"e":0.0005},{"s":1,"x":0.918,"y":0.0194,"e":0.0005},{"s":1,"x":0.92,"y":0.0198,"e":0.0005},{"s":1,"x":0.922,"y":0.0198,"e":0.0005},{"s":1,"x":0.924,"y":0.0202,"e":0.0005},{"s":1,"x":0.926,"y":0.0198,"e":0.0005},{"s":1,"x":0.928,"y":0.0189,"e":0.0003},{"s":1,"x":0.93,"y":0.0187,"e":0.0003},{"s":1,"x":0.932,"y":0.0191,"e":0.0003},{"s":1,"x":0.934,"y":0.0193,"e":0.0003},{"s":1,"x":0.936,"y":0.0191,"e":0.0003},{"s":1,"x":0.938,"y":0.0189,"e":0.0003},{"s":1,"x":0.94,"y":0.0189,"e":0.0003},{"s":1,"x":0.942,"y":0.0184,"e":0.0003},{"s":1,"x":0.944,"y":0.0182,"e":0.0003},{"s":1,"x":0.946,"y":0.0182,"e":0.0003},{"s":1,"x":0.948,"y":0.0184,"e":0.0003},{"s":1,"x":0.95,"y":0.0189,"e":0.0003},{"s":1,"x":0.952,"y":0.0193,"e":0.0003},{"s":1,"x":0.954,"y":0.0198,"e":0.0003},{"s":1,"x":0.956,"y":0.0196,"e":0.0003},{"s":1,"x":0.958,"y":0.0195,"e":0.0003},{"s":1,"x":0.96,"y":0.02,"e":0.0003},{"s":1,"x":0.962,"y":0.0193,"e":0.0003},{"s":1,"x":0.964,"y":0.0189,"e":0.0003},{"s":1,"x":0.966,"y":0.0191,"e":0.0003},{"s":1,"x":0.968,"y":0.0194,"e":0.0003},{"s":1,"x":0.97,"y":0.0196,"e":0.0003},{"s":1,"x":0.972,"y":0.0195,"e":0.0006},
{"s":2,"x":0.902,"y":0.0247,"e":0.0006},{"s":2,"x":0.904,"y":0.0229,"e":0.0006},{"s":2,"x":0.906,"y":0.0225,"e":0.0006},{"s":2,"x":0.908,"y":0.0229,"e":0.0006},{"s":2,"x":0.91,"y":0.0218,"e":0.0006},{"s":2,"x":0.912,"y":0.0222,"e":0.0006},{"s":2,"x":0.914,"y":0.0229,"e":0.0006},{"s":2,"x":0.916,"y":0.0236,"e":0.0006},{"s":2,"x":0.918,"y":0.0239,"e":0.0006},{"s":2,"x":0.92,"y":0.0236,"e":0.0006},{"s":2,"x":0.922,"y":0.0238,"e":0.0006},{"s":2,"x":0.924,"y":0.0243,"e":0.0006},{"s":2,"x":0.926,"y":0.0229,"e":0.0006},{"s":2,"x":0.928,"y":0.0236,"e":0.0006},{"s":2,"x":0.93,"y":0.0239,"e":0.0006},{"s":2,"x":0.932,"y":0.0247,"e":0.0003},{"s":2,"x":0.934,"y":0.0243,"e":0.0003},{"s":2,"x":0.936,"y":0.0247,"e":0.0003},{"s":2,"x":0.938,"y":0.0247,"e":0.0003},{"s":2,"x":0.94,"y":0.0247,"e":0.0003},{"s":2,"x":0.942,"y":0.0236,"e":0.0003},{"s":2,"x":0.944,"y":0.0232,"e":0.0003},{"s":2,"x":0.946,"y":0.0234,"e":0.0003},{"s":2,"x":0.948,"y":0.0238,"e":0.0003},{"s":2,"x":0.95,"y":0.0236,"e":0.0003},{"s":2,"x":0.952,"y":0.0234,"e":0.0003},{"s":2,"x":0.954,"y":0.0225,"e":0.0003},{"s":2,"x":0.956,"y":0.0212,"e":0.0003},{"s":2,"x":0.958,"y":0.0209,"e":0.0003},{"s":2,"x":0.96,"y":0.0209,"e":0.0003},{"s":2,"x":0.962,"y":0.0209,"e":0.0003},{"s":2,"x":0.964,"y":0.0207,"e":0.0003},{"s":2,"x":0.966,"y":0.0207,"e":0.0003},{"s":2,"x":0.968,"y":0.0209,"e":0.0003},{"s":2,"x":0.97,"y":0.0209,"e":0.0003},{"s":2,"x":0.972,"y":0.0193,"e":0.0008},
{"s":3,"x":0.902,"y":0.0275,"e":0.001},{"s":3,"x":0.904,"y":0.0218,"e":0.001},{"s":3,"x":0.906,"y":0.0239,"e":0.001},{"s":3,"x":0.908,"y":0.025,"e":0.001},{"s":3,"x":0.91,"y":0.0229,"e":0.001},{"s":3,"x":0.912,"y":0.0267,"e":0.001},{"s":3,"x":0.914,"y":0.0231,"e":0.001},{"s":3,"x":0.916,"y":0.0236,"e":0.001},{"s":3,"x":0.918,"y":0.0239,"e":0.001},{"s":3,"x":0.92,"y":0.0232,"e":0.001},{"s":3,"x":0.922,"y":0.0234,"e":0.001},{"s":3,"x":0.924,"y":0.0236,"e":0.001},{"s":3,"x":0.926,"y":0.0239,"e":0.001},{"s":3,"x":0.928,"y":0.0234,"e":0.0004},{"s":3,"x":0.93,"y":0.0234,"e":0.0004},{"s":3,"x":0.932,"y":0.0234,"e":0.0004},{"s":3,"x":0.934,"y":0.0234,"e":0.0004},{"s":3,"x":0.936,"y":0.0232,"e":0.0004},{"s":3,"x":0.938,"y":0.0232,"e":0.0004},{"s":3,"x":0.94,"y":0.0232,"e":0.0004},{"s":3,"x":0.942,"y":0.0239,"e":0.0004},{"s":3,"x":0.944,"y":0.0232,"e":0.0004},{"s":3,"x":0.946,"y":0.0229,"e":0.0004},{"s":3,"x":0.948,"y":0.0238,"e":0.0004},{"s":3,"x":0.95,"y":0.0229,"e":0.0004},{"s":3,"x":0.952,"y":0.0231,"e":0.0004},{"s":3,"x":0.954,"y":0.0229,"e":0.0004},{"s":3,"x":0.956,"y":0.0224,"e":0.0004},{"s":3,"x":0.958,"y":0.0225,"e":0.0004},{"s":3,"x":0.96,"y":0.0225,"e":0.0004},{"s":3,"x":0.962,"y":0.0227,"e":0.0004},{"s":3,"x":0.964,"y":0.0231,"e":0.0004},{"s":3,"x":0.966,"y":0.0229,"e":0.0004},{"s":3,"x":0.968,"y":0.0232,"e":0.0004},{"s":3,"x":0.97,"y":0.0247,"e":0.0004},{"s":3,"x":0.972,"y":0.0179,"e":0.0018},
{"s":4,"x":0.902,"y":0.0247,"e":0.0006},{"s":4,"x":0.904,"y":0.0225,"e":0.0006},{"s":4,"x":0.906,"y":0.0222,"e":0.0006},{"s":4,"x":0.908,"y":0.0232,"e":0.0006},{"s":4,"x":0.91,"y":0.0232,"e":0.0006},{"s":4,"x":0.912,"y":0.0225,"e":0.0006},{"s":4,"x":0.914,"y":0.0236,"e":0.0006},{"s":4,"x":0.916,"y":0.0236,"e":0.0006},{"s":4,"x":0.918,"y":0.0236,"e":0.0006},{"s":4,"x":0.92,"y":0.0239,"e":0.0006},{"s":4,"x":0.922,"y":0.0236,"e":0.0006},{"s":4,"x":0.924,"y":0.025,"e":0.0006},{"s":4,"x":0.926,"y":0.0243,"e":0.0006},{"s":4,"x":0.928,"y":0.0238,"e":0.0006},{"s":4,"x":0.93,"y":0.0252,"e":0.0006},{"s":4,"x":0.932,"y":0.0248,"e":0.0006},{"s":4,"x":0.934,"y":0.025,"e":0.0003},{"s":4,"x":0.936,"y":0.0245,"e":0.0003},{"s":4,"x":0.938,"y":0.0245,"e":0.0003},{"s":4,"x":0.94,"y":0.0247,"e":0.0003},{"s":4,"x":0.942,"y":0.0255,"e":0.0003},{"s":4,"x":0.944,"y":0.0257,"e":0.0003},{"s":4,"x":0.946,"y":0.0252,"e":0.0003},{"s":4,"x":0.948,"y":0.0257,"e":0.0003},{"s":4,"x":0.95,"y":0.0257,"e":0.0003},{"s":4,"x":0.952,"y":0.0265,"e":0.0003},{"s":4,"x":0.954,"y":0.0266,"e":0.0003},{"s":4,"x":0.956,"y":0.0266,"e":0.0003},{"s":4,"x":0.958,"y":0.027,"e":0.0003},{"s":4,"x":0.96,"y":0.0268,"e":0.0003},{"s":4,"x":0.962,"y":0.0285,"e":0.0003},{"s":4,"x":0.964,"y":0.0286,"e":0.0003},{"s":4,"x":0.966,"y":0.0285,"e":0.0003},{"s":4,"x":0.968,"y":0.0282,"e":0.0003},{"s":4,"x":0.97,"y":0.0281,"e":0.0006},{"s":4,"x":0.972,"y":0.0308,"e":0.002},
{"s":5,"x":0.902,"y":0.0225,"e":0.0006},{"s":5,"x":0.904,"y":0.0209,"e":0.0006},{"s":5,"x":0.906,"y":0.0211,"e":0.0006},{"s":5,"x":0.908,"y":0.0218,"e":0.0006},{"s":5,"x":0.91,"y":0.0211,"e":0.0006},{"s":5,"x":0.912,"y":0.0218,"e":0.0006},{"s":5,"x":0.914,"y":0.0214,"e":0.0006},{"s":5,"x":0.916,"y":0.0218,"e":0.0006},{"s":5,"x":0.918,"y":0.0214,"e":0.0006},{"s":5,"x":0.92,"y":0.0218,"e":0.0006},{"s":5,"x":0.922,"y":0.0212,"e":0.0006},{"s":5,"x":0.924,"y":0.0214,"e":0.0006},{"s":5,"x":0.926,"y":0.0218,"e":0.0006},{"s":5,"x":0.928,"y":0.0219,"e":0.0003},{"s":5,"x":0.93,"y":0.0207,"e":0.0003},{"s":5,"x":0.932,"y":0.0219,"e":0.0003},{"s":5,"x":0.934,"y":0.0218,"e":0.0003},{"s":5,"x":0.936,"y":0.0227,"e":0.0003},{"s":5,"x":0.938,"y":0.0227,"e":0.0003},{"s":5,"x":0.94,"y":0.0229,"e":0.0003},{"s":5,"x":0.942,"y":0.0227,"e":0.0003},{"s":5,"x":0.944,"y":0.0227,"e":0.0003},{"s":5,"x":0.946,"y":0.0229,"e":0.0003},{"s":5,"x":0.948,"y":0.0231,"e":0.0003},{"s":5,"x":0.95,"y":0.023,"e":0.0003},{"s":5,"x":0.952,"y":0.0234,"e":0.0003},{"s":5,"x":0.954,"y":0.0232,"e":0.0003},{"s":5,"x":0.956,"y":0.0238,"e":0.0003},{"s":5,"x":0.958,"y":0.0239,"e":0.0003},{"s":5,"x":0.96,"y":0.0236,"e":0.0003},{"s":5,"x":0.962,"y":0.0252,"e":0.0003},{"s":5,"x":0.964,"y":0.0252,"e":0.0003},{"s":5,"x":0.966,"y":0.0247,"e":0.0003},{"s":5,"x":0.968,"y":0.0245,"e":0.0003},{"s":5,"x":0.97,"y":0.0261,"e":0.0003},{"s":5,"x":0.972,"y":0.0275,"e":0.0013},
{"s":6,"x":0.902,"y":0.0222,"e":0.0009},{"s":6,"x":0.904,"y":0.0243,"e":0.0009},{"s":6,"x":0.906,"y":0.0222,"e":0.0009},{"s":6,"x":0.908,"y":0.0254,"e":0.0009},{"s":6,"x":0.91,"y":0.0236,"e":0.0009},{"s":6,"x":0.912,"y":0.0261,"e":0.0009},{"s":6,"x":0.914,"y":0.0254,"e":0.0009},{"s":6,"x":0.916,"y":0.0254,"e":0.0009},{"s":6,"x":0.918,"y":0.0238,"e":0.0009},{"s":6,"x":0.92,"y":0.0239,"e":0.0009},{"s":6,"x":0.922,"y":0.0236,"e":0.0009},{"s":6,"x":0.924,"y":0.0229,"e":0.0009},{"s":6,"x":0.926,"y":0.0243,"e":0.0009},{"s":6,"x":0.928,"y":0.0236,"e":0.0004},{"s":6,"x":0.93,"y":0.0236,"e":0.0004},{"s":6,"x":0.932,"y":0.0232,"e":0.0004},{"s":6,"x":0.934,"y":0.0236,"e":0.0004},{"s":6,"x":0.936,"y":0.0225,"e":0.0004},{"s":6,"x":0.938,"y":0.0229,"e":0.0004},{"s":6,"x":0.94,"y":0.0225,"e":0.0004},{"s":6,"x":0.942,"y":0.0225,"e":0.0004},{"s":6,"x":0.944,"y":0.0225,"e":0.0004},{"s":6,"x":0.946,"y":0.0229,"e":0.0004},{"s":6,"x":0.948,"y":0.0232,"e":0.0004},{"s":6,"x":0.95,"y":0.0238,"e":0.0004},{"s":6,"x":0.952,"y":0.0231,"e":0.0004},{"s":6,"x":0.954,"y":0.0224,"e":0.0004},{"s":6,"x":0.956,"y":0.0222,"e":0.0004},{"s":6,"x":0.958,"y":0.0227,"e":0.0004},{"s":6,"x":0.96,"y":0.0222,"e":0.0004},{"s":6,"x":0.962,"y":0.0224,"e":0.0004},{"s":6,"x":0.964,"y":0.0227,"e":0.0004},{"s":6,"x":0.966,"y":0.0222,"e":0.0004},{"s":6,"x":0.968,"y":0.0225,"e":0.0004},{"s":6,"x":0.97,"y":0.0218,"e":0.0004},{"s":6,"x":0.972,"y":0.0207,"e":0.0008}
]
},
"hconcat": [
{"vconcat": [
 {"width": 383, "height": 0.1, "data": {"values": []}, "mark": "point", "encoding": {}},
 {"width": 383, "height": 272, "data": {"name": "tl"},
  "layer": [
   {"mark": {"type": "errorbar", "ticks": {"size": 4}, "thickness": 1},
    "encoding": {
     "x": {"field": "x", "type": "quantitative", "scale": {"domain": [0.9, 1.0], "nice": false, "zero": false}, "axis": {"orient": "bottom", "values": [0.9,0.91,0.92,0.93,0.94,0.95,0.96,0.97,0.98,0.99,1.0], "labelExpr": "round(datum.value*100) % 5 == 0 ? format(datum.value,'.2f') : ''", "title": "cosθ  Bin", "labelPadding": 15.5, "titlePadding": 0}},
     "y": {"field": "y", "type": "quantitative", "scale": {"domain": [0.9, 1.0], "nice": false, "zero": false}, "axis": {"orient": "left", "values": [0.9,0.905,0.91,0.915,0.92,0.925,0.93,0.935,0.94,0.945,0.95,0.955,0.96,0.965,0.97,0.975,0.98,0.985,0.99,0.995,1.0], "labelExpr": "round(datum.value*1000) % 50 == 0 ? format(datum.value,'.2f') : ''", "title": "Mₓ mean distribution", "labelPadding": 12, "titlePadding": 13}},
     "yError": {"field": "e"},
     "color": {"field": "s", "type": "nominal", "scale": {"domain": [1,2,3,4,5,6,7], "range": ["#000000","#ff0000","#00ee00","#0000ff","#ff00ff","#00ffff","#888888"]}, "legend": null}
    }},
   {"mark": {"type": "point", "strokeWidth": 1.2, "opacity": 1, "size": 42},
    "encoding": {
     "x": {"field": "x", "type": "quantitative", "axis": {"orient": "top", "values": [0.9,0.91,0.92,0.93,0.94,0.95,0.96,0.97,0.98,0.99,1.0], "labels": false, "title": null}},
     "y": {"field": "y", "type": "quantitative", "axis": {"orient": "right", "values": [0.9,0.905,0.91,0.915,0.92,0.925,0.93,0.935,0.94,0.945,0.95,0.955,0.96,0.965,0.97,0.975,0.98,0.985,0.99,0.995,1.0], "labels": false, "title": null}},
     "shape": {"field": "s", "type": "nominal", "scale": {"domain": [1,2,3,4,5,6], "range": ["diamond","triangle-up","triangle-up","circle","circle","M0,-1.2L0.269,-0.371L1.141,-0.371L0.436,0.142L0.705,0.971L0,0.458L-0.705,0.971L-0.436,0.142L-1.141,-0.371L-0.269,-0.371Z"]},
      "legend": {"labelExpr": "'SECTOR\u00a0\u00a0' + datum.label", "encoding": {"labels": {"fill": {"condition": [{"test": "datum.value == 1", "value": "#000000"}, {"test": "datum.value == 2", "value": "#ff0000"}, {"test": "datum.value == 3", "value": "#00ee00"}, {"test": "datum.value == 4", "value": "#0000ff"}, {"test": "datum.value == 5", "value": "#ff00ff"}], "value": "#00ffff"}}}}},
     "fill": {"field": "s", "type": "nominal", "scale": {"domain": [1,2,3,4,5,6], "range": ["#000000","transparent","#00ee00","transparent","#ff00ff","transparent"]}},
     "stroke": {"field": "s", "type": "nominal", "scale": {"domain": [1,2,3,4,5,6], "range": ["#000000","#ff0000","#00ee00","#0000ff","#ff00ff","#00ffff"]}}
    }}
  ],
  "resolve": {"axis": {"x": "independent", "y": "independent"}}
 },
 {"width": 383, "height": 273, "data": {"name": "bl"},
  "layer": [
   {"mark": {"type": "errorbar", "ticks": {"size": 4}, "thickness": 1},
    "encoding": {
     "x": {"field": "x", "type": "quantitative", "scale": {"domain": [0.9, 1.0], "nice": false, "zero": false}, "axis": {"orient": "bottom", "values": [0.9,0.91,0.92,0.93,0.94,0.95,0.96,0.97,0.98,0.99,1.0], "labelExpr": "round(datum.value*100) % 5 == 0 ? format(datum.value,'.2f') : ''", "title": "cosθ  Bin", "labelPadding": 15.5, "titlePadding": 0}},
     "y": {"field": "y", "type": "quantitative", "scale": {"domain": [0.9, 1.0], "nice": false, "zero": false}, "axis": {"orient": "left", "values": [0.9,0.905,0.91,0.915,0.92,0.925,0.93,0.935,0.94,0.945,0.95,0.955,0.96,0.965,0.97,0.975,0.98,0.985,0.99,0.995,1.0], "labelExpr": "round(datum.value*1000) % 50 == 0 ? format(datum.value,'.2f') : ''", "title": "Mₓ mean distribution", "labelPadding": 12, "titlePadding": 13}},
     "yError": {"field": "e"},
     "color": {"field": "s", "type": "nominal", "scale": {"domain": [1,2,3,4,5,6,7], "range": ["#000000","#ff0000","#00ee00","#0000ff","#ff00ff","#00ffff","#888888"]}, "legend": null}
    }},
   {"mark": {"type": "point", "strokeWidth": 1.2, "opacity": 1, "size": 42},
    "encoding": {
     "x": {"field": "x", "type": "quantitative", "axis": {"orient": "top", "values": [0.9,0.91,0.92,0.93,0.94,0.95,0.96,0.97,0.98,0.99,1.0], "labels": false, "title": null}},
     "y": {"field": "y", "type": "quantitative", "axis": {"orient": "right", "values": [0.9,0.905,0.91,0.915,0.92,0.925,0.93,0.935,0.94,0.945,0.95,0.955,0.96,0.965,0.97,0.975,0.98,0.985,0.99,0.995,1.0], "labels": false, "title": null}},
     "shape": {"field": "s", "type": "nominal", "scale": {"domain": [1,2,3,4,5,6], "range": ["diamond","triangle-up","triangle-up","circle","circle","M0,-1.2L0.269,-0.371L1.141,-0.371L0.436,0.142L0.705,0.971L0,0.458L-0.705,0.971L-0.436,0.142L-1.141,-0.371L-0.269,-0.371Z"]},
      "legend": {"labelExpr": "'SECTOR\u00a0\u00a0' + datum.label", "encoding": {"labels": {"fill": {"condition": [{"test": "datum.value == 1", "value": "#000000"}, {"test": "datum.value == 2", "value": "#ff0000"}, {"test": "datum.value == 3", "value": "#00ee00"}, {"test": "datum.value == 4", "value": "#0000ff"}, {"test": "datum.value == 5", "value": "#ff00ff"}], "value": "#00ffff"}}}}},
     "fill": {"field": "s", "type": "nominal", "scale": {"domain": [1,2,3,4,5,6], "range": ["#000000","transparent","#00ee00","transparent","#ff00ff","transparent"]}},
     "stroke": {"field": "s", "type": "nominal", "scale": {"domain": [1,2,3,4,5,6], "range": ["#000000","#ff0000","#00ee00","#0000ff","#ff00ff","#00ffff"]}}
    }}
  ],
  "resolve": {"axis": {"x": "independent", "y": "independent"}}
 }
],
"spacing": 1,
"bounds": "full",
"resolve": {"scale": {"shape": "independent", "fill": "independent", "stroke": "independent", "color": "independent"}, "legend": {"shape": "independent", "fill": "independent", "stroke": "independent", "color": "independent"}}
},
{"vconcat": [
 {"width": 391, "height": 279, "data": {"name": "tr"},
  "layer": [
   {"mark": {"type": "errorbar", "ticks": {"size": 4}, "thickness": 1},
    "encoding": {
     "x": {"field": "x", "type": "quantitative", "scale": {"domain": [0.9, 1.0], "nice": false, "zero": false}, "axis": {"orient": "bottom", "values": [0.9,0.91,0.92,0.93,0.94,0.95,0.96,0.97,0.98,0.99,1.0], "labelExpr": "round(datum.value*100) % 5 == 0 ? format(datum.value,'.2f') : ''", "title": "cosθ  Bin", "labelPadding": 15.5, "titlePadding": 0}},
     "y": {"field": "y", "type": "quantitative", "scale": {"domain": [0, 0.06], "nice": false, "zero": false}, "axis": {"orient": "left", "values": [0,0.006,0.012,0.018,0.024,0.03,0.036,0.042,0.048,0.054,0.06], "labelExpr": "round(datum.value*1000) % 30 == 0 ? replace(format(datum.value,'.2f'),'0.','.') : ''", "title": "Mₓ sigma distribution", "labelPadding": 16, "titlePadding": 10.5}},
     "yError": {"field": "e"},
     "color": {"field": "s", "type": "nominal", "scale": {"domain": [1,2,3,4,5,6,7], "range": ["#000000","#ff0000","#00ee00","#0000ff","#ff00ff","#00ffff","#888888"]}, "legend": null}
    }},
   {"mark": {"type": "point", "strokeWidth": 1.2, "opacity": 1, "size": 42},
    "encoding": {
     "x": {"field": "x", "type": "quantitative", "axis": {"orient": "top", "values": [0.9,0.91,0.92,0.93,0.94,0.95,0.96,0.97,0.98,0.99,1.0], "labels": false, "title": null}},
     "y": {"field": "y", "type": "quantitative", "axis": {"orient": "right", "values": [0,0.006,0.012,0.018,0.024,0.03,0.036,0.042,0.048,0.054,0.06], "labels": false, "title": null}},
     "shape": {"field": "s", "type": "nominal", "scale": {"domain": [1,2,3,4,5,6], "range": ["diamond","triangle-up","triangle-up","circle","circle","M0,-1.2L0.269,-0.371L1.141,-0.371L0.436,0.142L0.705,0.971L0,0.458L-0.705,0.971L-0.436,0.142L-1.141,-0.371L-0.269,-0.371Z"]},
      "legend": {"labelExpr": "'SECTOR\u00a0\u00a0' + datum.label", "encoding": {"labels": {"fill": {"condition": [{"test": "datum.value == 1", "value": "#000000"}, {"test": "datum.value == 2", "value": "#ff0000"}, {"test": "datum.value == 3", "value": "#00ee00"}, {"test": "datum.value == 4", "value": "#0000ff"}, {"test": "datum.value == 5", "value": "#ff00ff"}], "value": "#00ffff"}}}}},
     "fill": {"field": "s", "type": "nominal", "scale": {"domain": [1,2,3,4,5,6], "range": ["#000000","transparent","#00ee00","transparent","#ff00ff","transparent"]}},
     "stroke": {"field": "s", "type": "nominal", "scale": {"domain": [1,2,3,4,5,6], "range": ["#000000","#ff0000","#00ee00","#0000ff","#ff00ff","#00ffff"]}}
    }}
  ],
  "resolve": {"axis": {"x": "independent", "y": "independent"}}
 },
 {"width": 391, "height": 279, "data": {"name": "br"},
  "layer": [
   {"mark": {"type": "errorbar", "ticks": {"size": 4}, "thickness": 1},
    "encoding": {
     "x": {"field": "x", "type": "quantitative", "scale": {"domain": [0.9, 1.0], "nice": false, "zero": false}, "axis": {"orient": "bottom", "values": [0.9,0.91,0.92,0.93,0.94,0.95,0.96,0.97,0.98,0.99,1.0], "labelExpr": "round(datum.value*100) % 5 == 0 ? format(datum.value,'.2f') : ''", "title": "cosθ  Bin", "labelPadding": 15.5, "titlePadding": 0}},
     "y": {"field": "y", "type": "quantitative", "scale": {"domain": [0, 0.06], "nice": false, "zero": false}, "axis": {"orient": "left", "values": [0,0.006,0.012,0.018,0.024,0.03,0.036,0.042,0.048,0.054,0.06], "labelExpr": "round(datum.value*1000) % 30 == 0 ? replace(format(datum.value,'.2f'),'0.','.') : ''", "title": "Mₓ sigma distribution", "labelPadding": 16, "titlePadding": 10.5}},
     "yError": {"field": "e"},
     "color": {"field": "s", "type": "nominal", "scale": {"domain": [1,2,3,4,5,6,7], "range": ["#000000","#ff0000","#00ee00","#0000ff","#ff00ff","#00ffff","#888888"]}, "legend": null}
    }},
   {"mark": {"type": "point", "strokeWidth": 1.2, "opacity": 1, "size": 42},
    "encoding": {
     "x": {"field": "x", "type": "quantitative", "axis": {"orient": "top", "values": [0.9,0.91,0.92,0.93,0.94,0.95,0.96,0.97,0.98,0.99,1.0], "labels": false, "title": null}},
     "y": {"field": "y", "type": "quantitative", "axis": {"orient": "right", "values": [0,0.006,0.012,0.018,0.024,0.03,0.036,0.042,0.048,0.054,0.06], "labels": false, "title": null}},
     "shape": {"field": "s", "type": "nominal", "scale": {"domain": [1,2,3,4,5,6], "range": ["diamond","triangle-up","triangle-up","circle","circle","M0,-1.2L0.269,-0.371L1.141,-0.371L0.436,0.142L0.705,0.971L0,0.458L-0.705,0.971L-0.436,0.142L-1.141,-0.371L-0.269,-0.371Z"]},
      "legend": {"labelExpr": "'SECTOR\u00a0\u00a0' + datum.label", "encoding": {"labels": {"fill": {"condition": [{"test": "datum.value == 1", "value": "#000000"}, {"test": "datum.value == 2", "value": "#ff0000"}, {"test": "datum.value == 3", "value": "#00ee00"}, {"test": "datum.value == 4", "value": "#0000ff"}, {"test": "datum.value == 5", "value": "#ff00ff"}], "value": "#00ffff"}}}}},
     "fill": {"field": "s", "type": "nominal", "scale": {"domain": [1,2,3,4,5,6], "range": ["#000000","transparent","#00ee00","transparent","#ff00ff","transparent"]}},
     "stroke": {"field": "s", "type": "nominal", "scale": {"domain": [1,2,3,4,5,6], "range": ["#000000","#ff0000","#00ee00","#0000ff","#ff00ff","#00ffff"]}}
    }}
  ],
  "resolve": {"axis": {"x": "independent", "y": "independent"}}
 }
],
"spacing": 47.5,
"bounds": "flush",
"resolve": {"scale": {"shape": "independent", "fill": "independent", "stroke": "independent", "color": "independent"}, "legend": {"shape": "independent", "fill": "independent", "stroke": "independent", "color": "independent"}}
}
]
}
